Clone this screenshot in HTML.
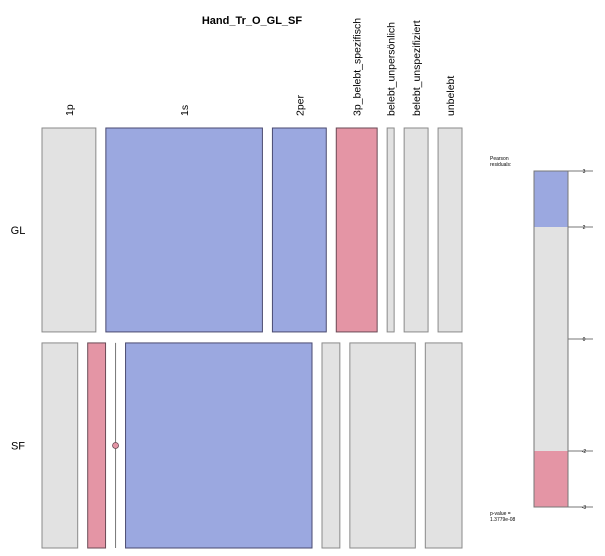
<!DOCTYPE html>
<html><head><meta charset="utf-8"><style>
html,body{margin:0;padding:0;background:#fff;}
svg{display:block;font-family:"Liberation Sans",sans-serif;}
</style></head><body>
<svg id="chart" width="605" height="556" viewBox="0 0 605 556" xmlns="http://www.w3.org/2000/svg">
<text x="252" y="24" text-anchor="middle" font-size="11" font-weight="bold">Hand_Tr_O_GL_SF</text>
<g id="cells"></g>
<g id="legend">
<text x="490" y="160" font-size="5">Pearson</text>
<text x="490" y="166" font-size="5">residuals:</text>
<text x="490" y="515" font-size="5">p-value =</text>
<text x="490" y="521" font-size="5">1.3779e-08</text>
</g>
</svg>
<script>
const columns = ["1p","1s","2per","3p_belebt_spezifisch","belebt_unpersönlich","belebt_unspezifiziert","unbelebt"];
const rows = ["GL","SF"];
const countsGL = [54,157,54,41,7,24,24];
const countsSF = [36,18,0,188,18,66,37];
const residGL = [0,1,1,-1,0,0,0];
const residSF = [0,-1,-1,1,0,0,0];
const legendTicks = [3,2,0,-2,-3];

const NS="http://www.w3.org/2000/svg";
const g=document.getElementById('cells');
const svg=document.getElementById('chart');
function mk(tag,attrs){const e=document.createElementNS(NS,tag);for(const k in attrs)e.setAttribute(k,attrs[k]);return e;}
const fillOf=r=>r>0?"#9ba8e0":(r<0?"#e495a5":"#e2e2e2");
const strokeOf=r=>r>0?"#4a4a70":(r<0?"#6a4a55":"#8a8a8a");
const X0=42,W=420,GAP=10,Y0=128,HT=420,VGAP=11;
const data=[countsGL,countsSF], res=[residGL,residSF];
const tot=data.map(a=>a.reduce((s,v)=>s+v,0));
const grand=tot[0]+tot[1];
let y=Y0;
rows.forEach((rn,ri)=>{
  const h=tot[ri]/grand*(HT-VGAP);
  const unit=(W-GAP*(columns.length-1))/tot[ri];
  let x=X0;
  const lab=mk('text',{x:18,y:y+h/2+4,'text-anchor':'middle','font-size':11});
  lab.textContent=rn;
  
  
  svg.appendChild(lab);
  data[ri].forEach((v,ci)=>{
    const w=v*unit;
    if(v>0){
      const r=mk('rect',{x:x,y:y,width:w,height:h,fill:fillOf(res[ri][ci]),stroke:strokeOf(res[ri][ci]),'stroke-width':1});
      
      
      g.appendChild(r);
    } else {
      const l=mk('line',{x1:x,x2:x,y1:y,y2:y+h,stroke:'#777','stroke-width':1});
      
      
      g.appendChild(l);
      const c=mk('circle',{cx:x,cy:y+h/2,r:3,fill:fillOf(res[ri][ci]),stroke:'#6a4a55','stroke-width':0.8});
      
      
      g.appendChild(c);
    }
    if(ri===0){
      const cx=x+w/2+4;
      const t=mk('text',{x:0,y:0,'font-size':10.5,transform:`translate(${cx},116) rotate(-90)`});
      t.textContent=columns[ci];
      
      
      svg.appendChild(t);
    }
    x+=w+GAP;
  });
  y+=h+VGAP;
});
const LX=534,LW=34,ytop=171,ybot=507;
const ly=v=>ytop+(3-v)/6*(ybot-ytop);
const segs=[[3,2,1],[2,-2,0],[-2,-3,-1]];
const lg=document.getElementById('legend');
segs.forEach(s=>{
  const r=mk('rect',{x:LX,y:ly(s[0]),width:LW,height:ly(s[1])-ly(s[0]),fill:fillOf(s[2])});
  
  
  lg.appendChild(r);
});
const fr=mk('rect',{x:LX,y:ytop,width:LW,height:ybot-ytop,fill:'none',stroke:'#777','stroke-width':1});


lg.appendChild(fr);
legendTicks.forEach(v=>{
  const l=mk('line',{x1:LX+LW,x2:593,y1:ly(v),y2:ly(v),stroke:'#777','stroke-width':1});
  
  
  lg.appendChild(l);
  const t=mk('text',{x:584,y:ly(v)+2,'text-anchor':'middle','font-size':5});
  t.textContent=v;
  
  
  lg.appendChild(t);
});
</script>
</body></html>
